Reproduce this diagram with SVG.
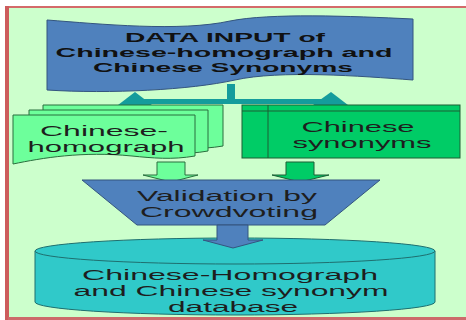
<svg xmlns="http://www.w3.org/2000/svg" width="466" height="320" viewBox="0 0 466 320">
<style>
.t{font-family:"Liberation Sans",Arial,sans-serif;fill:#1e1e1e;text-anchor:middle}
.b{font-weight:bold;font-size:13.5px;fill:#111}
.r{font-size:14px}
.d{font-size:14px}
.blue{fill:#4f81bd;stroke:#34557f;stroke-width:1}
.lg{fill:#6dff9b;stroke:#2a6e3e;stroke-width:1}
.dg{fill:#00cc66;stroke:#1d5e35;stroke-width:1}
.teal{fill:#149c9c}
</style>
<rect x="0" y="0" width="466" height="320" fill="#ffffff"/>
<rect x="8" y="7" width="458" height="312" fill="#ccffcc"/>
<rect x="8" y="6" width="458" height="2" fill="#d46a6a"/>
<rect x="5" y="6" width="4" height="314" fill="#cc5c5c"/>
<rect x="8" y="317" width="458" height="3" fill="#cc6b6b"/>

<g id="connectors">
<rect class="teal" x="227" y="84" width="8" height="20"/>
<rect class="teal" x="140" y="99" width="186" height="5"/>
<polygon class="teal" points="118,105 135,92 152,105"/>
<polygon class="teal" points="313,105 331,92 348,105"/>
<polygon class="lg" points="157,162 185,162 185,175 198,175 171,182 143,175 157,175"/>
<polygon class="dg" points="286,162 314,162 314,175 329,175 300,182 272,175 286,175"/>
</g>

<g id="data-input">
<path class="blue" d="M47,20 C100,24 180,32 230,21 C270,13 350,16 413,19 L413,80 C360,76 280,70 235,80 C190,90 110,94 47,90 Z"/>
<text class="t b" x="225" y="42" textLength="200" lengthAdjust="spacingAndGlyphs">DATA INPUT of</text>
<text class="t b" x="224" y="57" textLength="337" lengthAdjust="spacingAndGlyphs">Chinese-homograph and</text>
<text class="t b" x="223" y="72" textLength="260" lengthAdjust="spacingAndGlyphs">Chinese Synonyms</text>
</g>

<g id="chinese-homograph">
<path class="lg" d="M43,105 L223,105 L223,146 C200,150 180,148 160,146 C110,141 70,148 43,150 Z"/>
<path class="lg" d="M29,110 L208,110 L208,151 C186,155 166,153 146,151 C96,146 56,153 29,155 Z"/>
<path class="lg" d="M13,115 L195,115 L195,156 C172,160 152,158 132,156 C82,151 42,158 13,164 Z"/>
<text class="t r" x="104" y="136" textLength="128" lengthAdjust="spacingAndGlyphs">Chinese-</text>
<text class="t r" x="106" y="152" textLength="157" lengthAdjust="spacingAndGlyphs">homograph</text>
</g>

<g id="chinese-synonyms">
<rect class="dg" x="242" y="105" width="218" height="53"/>
<line x1="242" y1="111" x2="460" y2="111" stroke="#1d5e35" stroke-width="1"/>
<line x1="268" y1="105" x2="268" y2="158" stroke="#1d5e35" stroke-width="1"/>
<text class="t r" x="358" y="132" textLength="113" lengthAdjust="spacingAndGlyphs">Chinese</text>
<text class="t r" x="362" y="148" textLength="139" lengthAdjust="spacingAndGlyphs">synonyms</text>
</g>

<g id="validation">
<polygon class="blue" points="82,180 380,180 325,225 137,225"/>
<text class="t r" x="227" y="201" textLength="180" lengthAdjust="spacingAndGlyphs">Validation by</text>
<text class="t r" x="229" y="217" textLength="178" lengthAdjust="spacingAndGlyphs">Crowdvoting</text>
</g>

<g id="database">
<path d="M35,251 L35,302 A200,13 0 0 0 435,302 L435,251 Z" fill="#30c9c9" stroke="#1f6f6f" stroke-width="1"/>
<ellipse cx="235" cy="251" rx="200" ry="13" fill="#30c9c9" stroke="#1f6f6f" stroke-width="1"/>
<text class="t d" x="230" y="280" textLength="296" lengthAdjust="spacingAndGlyphs">Chinese-Homograph</text>
<text class="t d" x="231" y="296" textLength="315" lengthAdjust="spacingAndGlyphs">and Chinese synonym</text>
<text class="t d" x="233" y="312" textLength="130" lengthAdjust="spacingAndGlyphs">database</text>
</g>

<g id="connector-db">
<polygon class="blue" points="217,225 248,225 248,240 263,240 233,248 203,240 217,240"/>
</g>
</svg>
